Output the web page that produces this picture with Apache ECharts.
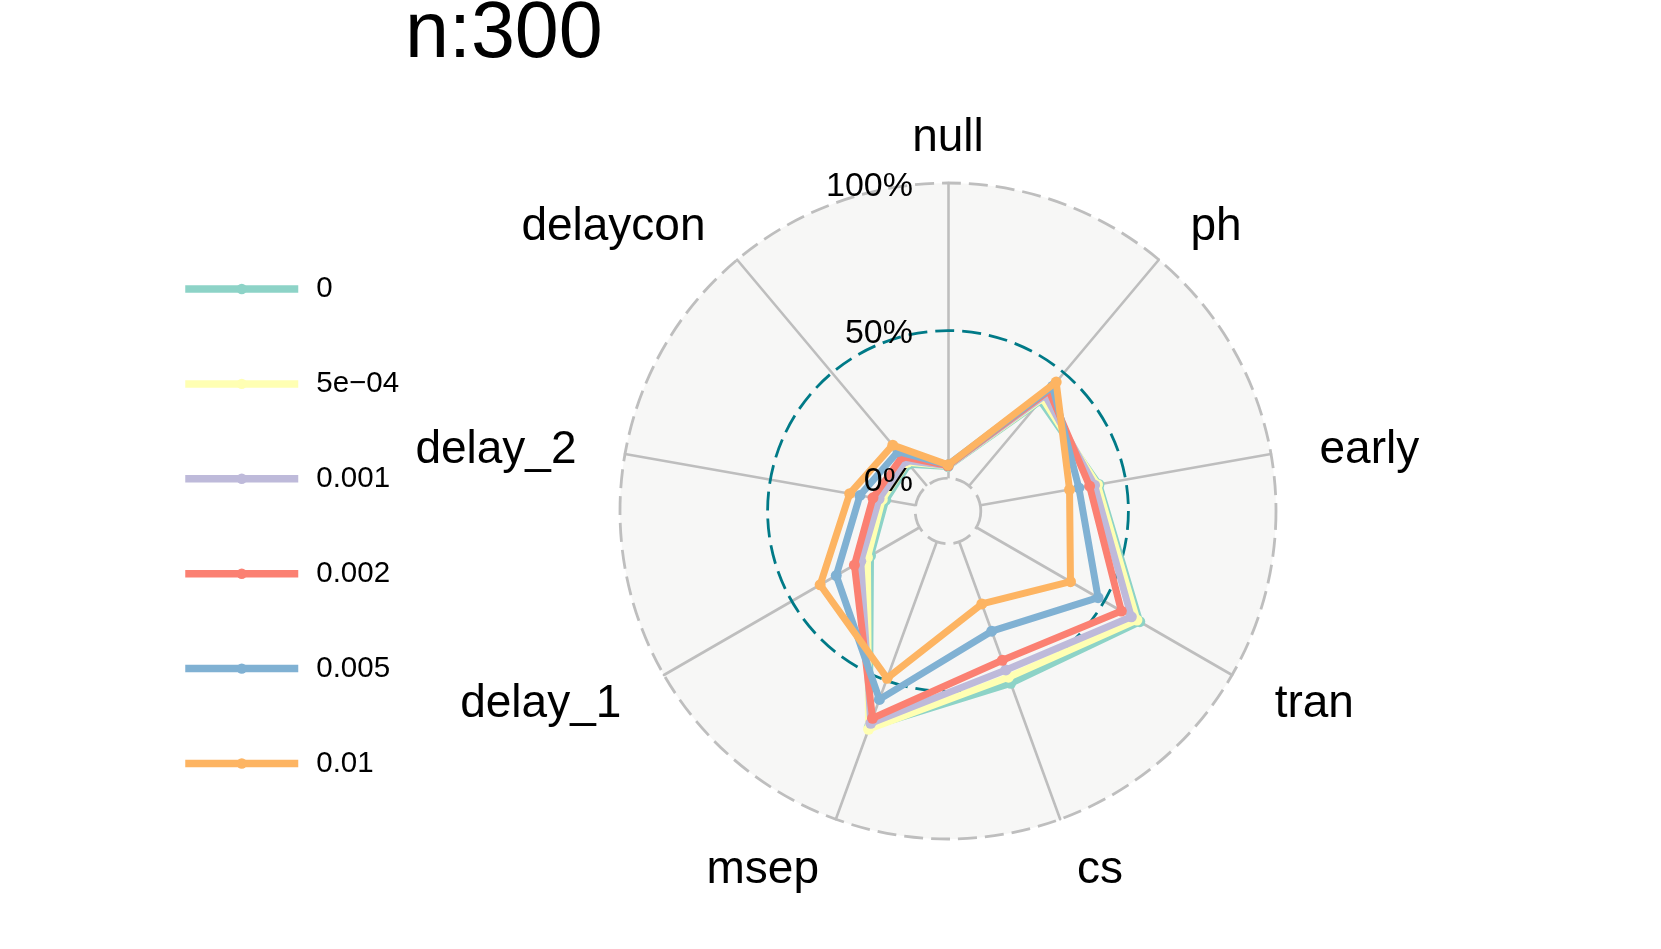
<!DOCTYPE html>
<html>
<head>
<meta charset="utf-8">
<script src="https://cdn.jsdelivr.net/npm/echarts@6/dist/echarts.min.js"></script>
<style>
html,body{margin:0;padding:0;background:#fff;}
#chart{width:1661px;height:949px;}
</style>
</head>
<body>
<div id="chart"></div>
<script>
// ---- data ----
const categories = ['null', 'ph', 'early', 'tran', 'cs', 'msep', 'delay_1', 'delay_2', 'delaycon'];
const seriesNames = ['0', '5e\u221204', '0.001', '0.002', '0.005', '0.01'];
const values_0     = [0.040, 0.376, 0.408, 0.639, 0.510, 0.668, 0.192, 0.103, 0.096];
const values_5e04  = [0.042, 0.387, 0.403, 0.628, 0.488, 0.676, 0.204, 0.115, 0.104];
const values_0001  = [0.042, 0.401, 0.393, 0.606, 0.462, 0.654, 0.230, 0.126, 0.112];
const values_0002  = [0.043, 0.421, 0.376, 0.567, 0.427, 0.636, 0.255, 0.147, 0.130];
const values_0005  = [0.045, 0.440, 0.339, 0.476, 0.322, 0.568, 0.326, 0.192, 0.152];
const values_001   = [0.045, 0.459, 0.307, 0.368, 0.224, 0.492, 0.389, 0.227, 0.180];
const gridValues = [0, 0.5, 1];
const gridLabels = ['0%', '50%', '100%'];
const titleText = 'n:300';

// ---- layout / style ----
const allValues = [values_0, values_5e04, values_0001, values_0002, values_0005, values_001];
const colors = ['#8DD3C7', '#FFFFB3', '#BEBADA', '#FB8072', '#80B1D3', '#FDB462'];
const FONT = 'Liberation Sans, Arial, Helvetica, sans-serif';
const CX = 948, CY = 511, R = 328;
const RMIN = -1 / 9, RMAX = 1;
const rOf = v => R * (v - RMIN) / (RMAX - RMIN);
const BG = '#F7F7F6';
const GREY = '#BEBEBE';
const TEAL = '#007A87';
const DASH = [19, 8];

// radar goes counter-clockwise: reorder names so they appear clockwise
const n = categories.length;
const radarOrder = [0].concat(Array.from({length: n - 1}, (_, k) => n - 1 - k));
const indicatorsNamed = radarOrder.map(i => ({name: categories[i], min: 0, max: 1}));
const indicatorsPlain = categories.map(() => ({name: '', min: 0, max: 1}));

const radarBase = {
  center: [CX, CY], shape: 'circle', splitNumber: 1, startAngle: 90,
  axisTick: {show: false}, axisLabel: {show: false}
};

const radars = [
  Object.assign({}, radarBase, {
    z: 0, radius: R, indicator: indicatorsNamed, nameGap: 0.15 * R,
    axisName: {color: '#000', fontSize: 46, fontFamily: FONT, lineHeight: 10, verticalAlign: 'top'},
    axisLine: {show: true, lineStyle: {color: GREY, width: 2.6}},
    splitLine: {show: true, lineStyle: {color: GREY, width: 2.8, type: DASH}},
    splitArea: {show: true, areaStyle: {color: [BG]}}
  }),
  Object.assign({}, radarBase, {
    z: 1, radius: rOf(gridValues[0]), indicator: indicatorsPlain,
    axisName: {show: false},
    axisLine: {show: false},
    splitLine: {show: true, lineStyle: {color: GREY, width: 2.8, type: DASH}},
    splitArea: {show: true, areaStyle: {color: [BG]}}
  }),
  Object.assign({}, radarBase, {
    z: 1, radius: rOf(gridValues[1]), indicator: indicatorsPlain,
    axisName: {show: false},
    axisLine: {show: false},
    splitLine: {show: true, lineStyle: {color: TEAL, width: 2.8, type: DASH}},
    splitArea: {show: false}
  })
];

const step = 360 / n;
const series = allValues.map((vals, s) => {
  const pts = vals.map((v, i) => [v, i * step]);
  pts.push([vals[0], 360]);
  return {
    name: seriesNames[s], type: 'line', coordinateSystem: 'polar', polarIndex: 0,
    data: pts, symbol: 'circle', symbolSize: 11, showSymbol: true, z: 3 + s,
    lineStyle: {color: colors[s], width: 7},
    itemStyle: {color: colors[s]},
    emphasis: {disabled: true}, silent: true, animation: false
  };
});

const graphics = gridValues.map((g, k) => ({
  type: 'text', z: 100, x: CX - 35, y: CY - rOf(g) + 3.5,
  style: {text: gridLabels[k], align: 'right', verticalAlign: 'middle',
          fontSize: 34, fontFamily: FONT, fill: '#000'}
}));

const chart = echarts.init(document.getElementById('chart'), null, {renderer: 'canvas'});
chart.setOption({
  backgroundColor: '#fff',
  animation: false,
  color: colors,
  title: {
    text: titleText, left: 405, top: 2, padding: 0,
    textStyle: {fontSize: 79, fontWeight: 'normal', color: '#000', fontFamily: FONT, lineHeight: 66}
  },
  legend: {
    orient: 'vertical', left: 181.5, top: 273, padding: 0,
    itemWidth: 113, itemHeight: 13, itemGap: 62.9,
    data: seriesNames,
    lineStyle: {width: 7.5},
    textStyle: {fontSize: 29.5, lineHeight: 32, color: '#000', fontFamily: FONT, padding: [0, 0, 0, 13]},
    selectedMode: false
  },
  radar: radars,
  polar: {center: [CX, CY], radius: R},
  angleAxis: {type: 'value', min: 0, max: 360, startAngle: 90, clockwise: true, show: false},
  radiusAxis: {type: 'value', min: RMIN, max: RMAX, show: false},
  graphic: graphics,
  series: series
});
</script>
</body>
</html>
